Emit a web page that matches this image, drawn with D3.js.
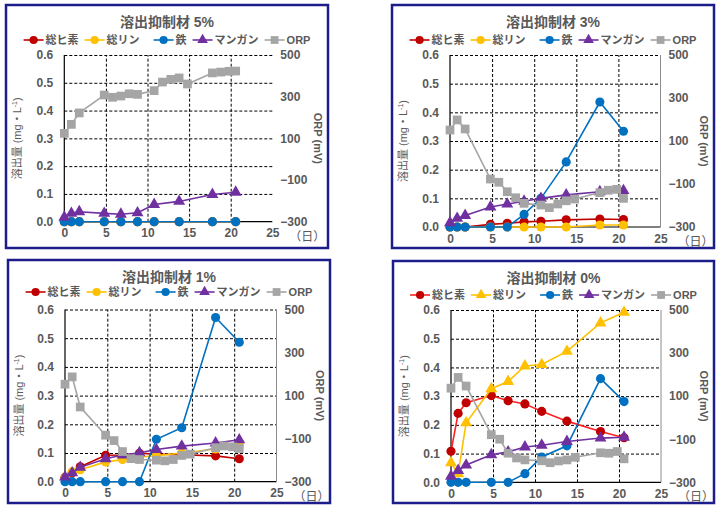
<!DOCTYPE html>
<html>
<head>
<meta charset="utf-8">
<script src="https://cdn.jsdelivr.net/npm/d3@7"></script>
<style>
  body { margin: 0; background: #fff; }
  text { font-family: "Liberation Sans", "Noto Sans CJK JP", sans-serif; fill: #595959; }
</style>
</head>
<body>
<script>
// measurement days (elements) and ORP days
const days = [0, 0.85, 1.8, 4.8, 6.8, 8.8, 10.8, 13.8, 17.8, 20.6];
const orpDays = [0, 0.85, 1.8, 4.8, 5.8, 6.8, 7.8, 8.8, 10.8, 11.8, 12.8, 13.8, 14.8, 17.8, 18.8, 19.8, 20.6];

const xTicks = [0, 5, 10, 15, 20, 25];
const yTicks = [0, 0.1, 0.2, 0.3, 0.4, 0.5, 0.6];
const orpTicks = [-300, -100, 100, 300, 500];

// 5%
const as5 = [0, 0, 0, 0, 0, 0, 0, 0, 0, 0];
const p5 = [0, 0, 0, 0, 0, 0, 0, 0, 0, 0];
const fe5 = [0, 0, 0, 0, 0, 0, 0, 0, 0, 0];
const mn5 = [0.016, 0.03, 0.036, 0.03, 0.027, 0.032, 0.062, 0.073, 0.098, 0.106];
const orp5 = [124, 167, 222, 308, 297, 303, 314, 311, 329, 370, 383, 390, 361, 414, 418, 422, 423];

// 3%
const as3 = [0, 0, 0, 0.009, 0.013, 0.018, 0.02, 0.025, 0.028, 0.026];
const p3 = [0, 0, 0, 0, 0, 0, 0, 0, 0.007, 0.007];
const fe3 = [0, 0, 0, 0, 0, 0.044, 0.1, 0.227, 0.436, 0.334];
const mn3 = [0.015, 0.03, 0.04, 0.07, 0.08, 0.09, 0.1, 0.112, 0.123, 0.127];
const orp3 = [151, 198, 156, -77, -92, -136, -164, -190, -198, -210, -193, -178, -170, -140, -129, -125, -167];

// 1%
const as1 = [0.015, 0.031, 0.052, 0.092, 0.093, 0.099, 0.096, 0.094, 0.09, 0.08];
const p1 = [0.013, 0.035, 0.042, 0.069, 0.077, 0.086, 0.091, 0.1, 0.114, 0.128];
const fe1 = [0, 0, 0, 0, 0, 0, 0.148, 0.188, 0.572, 0.486];
const mn1 = [0.016, 0.031, 0.05, 0.08, 0.093, 0.101, 0.112, 0.124, 0.135, 0.146];
const orp1 = [153, 187, 47, -84, -109, -160, -193, -197, -200, -203, -197, -178, -172, -142, -134, -138, -146];

// 0%
const as0 = [0.108, 0.24, 0.277, 0.302, 0.284, 0.273, 0.247, 0.213, 0.177, 0.155];
const p0 = [0.068, 0.03, 0.207, 0.326, 0.351, 0.405, 0.41, 0.456, 0.555, 0.592];
const fe0 = [0, 0, 0, 0, 0, 0.03, 0.088, 0.127, 0.361, 0.281];
const mn0 = [0.021, 0.041, 0.06, 0.096, 0.106, 0.123, 0.129, 0.142, 0.154, 0.157];
const orp0 = [137, 187, 147, -79, -100, -165, -187, -196, -200, -209, -201, -196, -184, -163, -165, -157, -191];

const panels = [
  { title: "溶出抑制材 5%", box: [6, 5, 328, 248], plot: [64.3, 55, 272.3, 221.7], legendY: 40,
    data: { as: as5, p: p5, fe: fe5, mn: mn5, orp: orp5 }, pMarker: "circle", asLine: "#C00000", rightLine: false },
  { title: "溶出抑制材 3%", box: [392, 5, 714, 248], plot: [450, 55, 660.5, 227], legendY: 40,
    data: { as: as3, p: p3, fe: fe3, mn: mn3, orp: orp3 }, pMarker: "circle", asLine: "#C00000", rightLine: true },
  { title: "溶出抑制材 1%", box: [8, 260, 330, 503], plot: [65, 309.5, 276.5, 481.7], legendY: 292,
    data: { as: as1, p: p1, fe: fe1, mn: mn1, orp: orp1 }, pMarker: "circle", asLine: "#C00000", rightLine: true },
  { title: "溶出抑制材 0%", box: [393, 261, 714, 503], plot: [451, 310, 661, 482.3], legendY: 295,
    data: { as: as0, p: p0, fe: fe0, mn: mn0, orp: orp0 }, pMarker: "triangle", asLine: "#FF2020", rightLine: true }
];

const symbols = { circle: d3.symbolCircle, triangle: d3.symbolTriangle, square: d3.symbolSquare };
const symSize = { circle: 66, triangle: 62, square: 76 };

const svg = d3.select("body").append("svg").attr("width", 716).attr("height", 506);
svg.append("rect").attr("width", 716).attr("height", 506).attr("fill", "#fff");

panels.forEach((pn) => {
  const [L, T, R, B] = pn.plot;
  const [bx0, by0, bx1, by1] = pn.box;
  const g = svg.append("g");

  const series = [
    { name: "総ヒ素", key: "as", line: pn.asLine, fill: "#C00000", marker: "circle" },
    { name: "総リン", key: "p", line: "#FFC000", fill: "#FFC000", marker: pn.pMarker },
    { name: "鉄", key: "fe", line: "#0070C0", fill: "#0070C0", marker: "circle" },
    { name: "マンガン", key: "mn", line: "#7030A0", fill: "#7030A0", marker: "triangle" },
    { name: "ORP", key: "orp", line: "#A5A5A5", fill: "#A5A5A5", marker: "square", right: true }
  ];

  const x = d3.scaleLinear().domain([0, 25]).range([L, R]);
  const y = d3.scaleLinear().domain([0, 0.6]).range([B, T]);
  const y2 = d3.scaleLinear().domain([-300, 500]).range([B, T]);

  // gridlines
  g.append("g")
    .attr("transform", `translate(${L},0)`)
    .call(d3.axisLeft(y).tickValues(yTicks.slice(1)).tickSize(-(R - L)).tickFormat(""))
    .call((a) => a.select(".domain").remove())
    .selectAll("line").attr("stroke", "#000").attr("stroke-dasharray", "3,2");
  g.append("g")
    .attr("transform", `translate(0,${B})`)
    .call(d3.axisBottom(x).tickValues([5, 10, 15, 20]).tickSize(-(B - T)).tickFormat(""))
    .call((a) => a.select(".domain").remove())
    .selectAll("line").attr("stroke", "#000").attr("stroke-dasharray", "3,2");

  // axis lines
  g.append("line").attr("x1", x(0)).attr("x2", x(0)).attr("y1", y(0)).attr("y2", y(0.6))
    .attr("stroke", "#000").attr("stroke-width", 1.2);
  g.append("line").attr("x1", x(0)).attr("x2", x(25)).attr("y1", y(0)).attr("y2", y(0))
    .attr("stroke", "#000").attr("stroke-width", 1.2);
  if (pn.rightLine) {
    g.append("line").attr("x1", x(25)).attr("x2", x(25)).attr("y1", y(0)).attr("y2", y(0.6))
      .attr("stroke", "#8c8c8c").attr("stroke-width", 1);
  }

  // tick labels
  const styleTicks = (a, size) => {
    a.select(".domain").remove();
    a.selectAll("text").style("font-size", size + "px").style("font-weight", "bold").attr("fill", "#595959");
  };
  g.append("g").attr("transform", `translate(${L},0)`)
    .call(d3.axisLeft(y).tickValues(yTicks).tickSize(0).tickPadding(11).tickFormat(d3.format(".1f")))
    .call((a) => styleTicks(a, 12));
  g.append("g").attr("transform", `translate(${R},0)`)
    .call(d3.axisRight(y2).tickValues(orpTicks).tickSize(0).tickPadding(8))
    .call((a) => styleTicks(a, 12));
  g.append("g").attr("transform", `translate(0,${B})`)
    .call(d3.axisBottom(x).tickValues(xTicks).tickSize(0).tickPadding(7))
    .call((a) => styleTicks(a, 12));

  g.append("text").attr("x", R + 17).attr("y", B + 19).style("font-size", "12px")
    .text("（日）");

  // axis titles
  const yt = g.append("text")
    .attr("transform", `translate(${bx0 + 15},${(T + B) / 2}) rotate(-90)`)
    .attr("text-anchor", "middle").style("font-size", "11px");
  yt.append("tspan").text("溶出量 (mg・L");
  yt.append("tspan").attr("dy", -4).style("font-size", "7px").text("-1");
  yt.append("tspan").attr("dy", 4).text(")");

  g.append("text")
    .attr("transform", `translate(${bx1 - 14},${(T + B) / 2}) rotate(90)`)
    .attr("text-anchor", "middle").style("font-size", "11px").style("font-weight", "bold")
    .text("ORP (mV)");

  // title
  g.append("text").attr("x", (bx0 + bx1) / 2).attr("y", by0 + 22).attr("text-anchor", "middle")
    .style("font-size", "14px").style("font-weight", "bold").text(pn.title);

  // series
  const drawSeries = (s) => {
    const vals = pn.data[s.key];
    const xs = s.right ? orpDays : days;
    const yy = s.right ? y2 : y;
    const pts = vals.map((v, i) => [xs[i], v]);
    g.append("path").datum(pts)
      .attr("fill", "none").attr("stroke", s.line).attr("stroke-width", 1.6)
      .attr("d", d3.line().x((d) => x(d[0])).y((d) => yy(d[1])));
    g.selectAll(null).data(pts).enter().append("path")
      .attr("transform", (d) => `translate(${x(d[0])},${yy(d[1])})`)
      .attr("d", d3.symbol().type(symbols[s.marker]).size(symSize[s.marker]))
      .attr("fill", s.fill);
  };
  series.forEach(drawSeries);

  // legend
  const lg = g.append("g");
  let cx = 0;
  series.forEach((s) => {
    const e = lg.append("g").attr("transform", `translate(${cx},0)`);
    e.append("line").attr("x1", 0).attr("x2", 20).attr("stroke", s.line).attr("stroke-width", 1.6);
    e.append("path").attr("transform", "translate(10,0)")
      .attr("d", d3.symbol().type(symbols[s.marker]).size(symSize[s.marker] * 0.8))
      .attr("fill", s.fill);
    const t = e.append("text").attr("x", 22).attr("y", 4).style("font-size", "11px").style("font-weight", "bold")
      .text(s.name);
    cx += 22 + t.node().getComputedTextLength() + (s.key === "p" ? 14 : 6);
  });
  cx -= 6;
  lg.attr("transform", `translate(${(bx0 + bx1) / 2 - cx / 2},${pn.legendY})`);

  // panel border
  g.append("rect").attr("x", bx0).attr("y", by0).attr("width", bx1 - bx0).attr("height", by1 - by0)
    .attr("fill", "none").attr("stroke", "#1c1c8a").attr("stroke-width", 2.5);
});
</script>
</body>
</html>
